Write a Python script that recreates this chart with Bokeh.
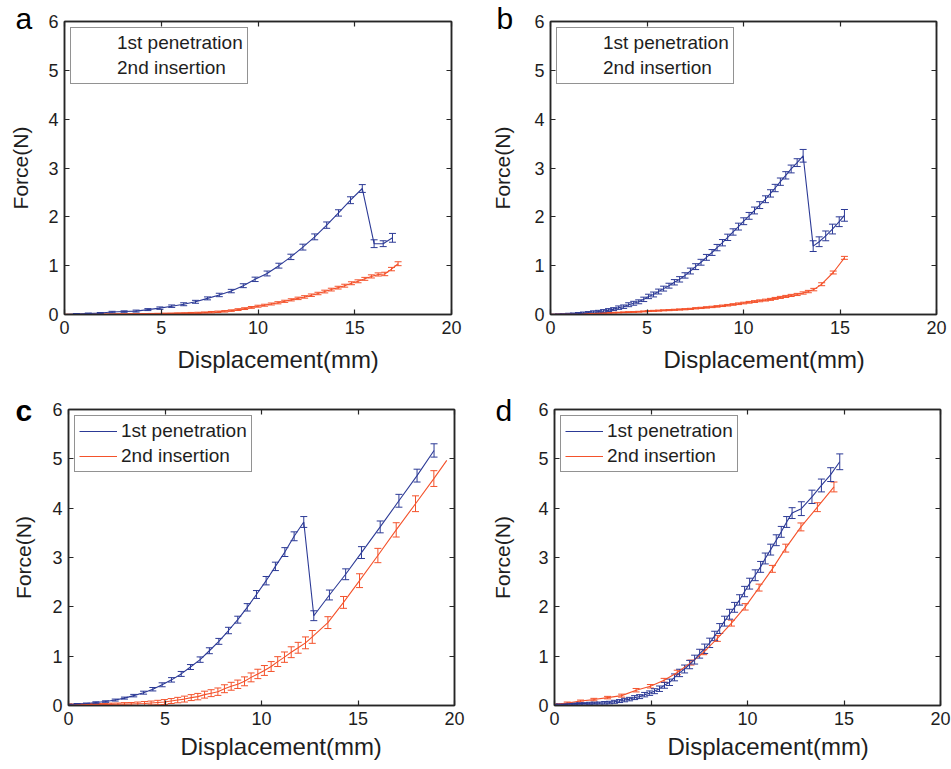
from bokeh.plotting import figure
from bokeh.layouts import column, row
from bokeh.models import (ColumnDataSource, Whisker, TeeHead, Title, LinearAxis,
                          Range1d, Legend, LegendItem, FixedTicker)
from bokeh.embed import file_html
from bokeh.resources import INLINE

# ---------------- data ----------------
x_ticks = [0, 5, 10, 15, 20]
y_ticks = [0, 1, 2, 3, 4, 5, 6]
x_label = "Displacement(mm)"
y_label = "Force(N)"
series_names = ["1st penetration", "2nd insertion"]
panel_letters = ["a", "b", "c", "d"]

# panel a
a_pen_x = [0, 0.62, 1.23, 1.85, 2.46, 3.08, 3.70, 4.31, 4.93, 5.54,
           6.16, 6.77, 7.39, 8.00, 8.62, 9.24, 9.85, 10.47, 11.08, 11.70,
           12.32, 12.93, 13.55, 14.16, 14.78, 15.39, 16.00, 16.47, 16.95]
a_pen_y = [0.00, 0.01, 0.02, 0.03, 0.05, 0.06, 0.07, 0.10, 0.13, 0.17,
           0.21, 0.26, 0.33, 0.40, 0.48, 0.59, 0.72, 0.84, 1.00, 1.18,
           1.38, 1.59, 1.83, 2.08, 2.34, 2.58, 1.45, 1.45, 1.57]
a_pen_err = [0, 0.01, 0.01, 0.01, 0.015, 0.015, 0.02, 0.02, 0.025, 0.025,
             0.03, 0.03, 0.03, 0.035, 0.035, 0.04, 0.045, 0.05, 0.05, 0.055,
             0.06, 0.06, 0.065, 0.065, 0.07, 0.08, 0.08, 0.06, 0.09]
a_ins_x = [0, 0.34, 0.69, 1.03, 1.38, 1.72, 2.07, 2.41, 2.76, 3.10,
           3.45, 3.79, 4.14, 4.48, 4.83, 5.17, 5.52, 5.86, 6.21, 6.55,
           6.90, 7.24, 7.59, 7.93, 8.28, 8.62, 8.97, 9.31, 9.66, 10.00,
           10.34, 10.69, 11.03, 11.38, 11.72, 12.07, 12.41, 12.76, 13.10, 13.45,
           13.79, 14.14, 14.48, 14.83, 15.17, 15.52, 15.86, 16.21, 16.55, 16.90,
           17.24]
a_ins_y = [0.000, 0.000, 0.001, 0.002, 0.003, 0.004, 0.005, 0.006, 0.007, 0.008,
           0.009, 0.010, 0.012, 0.014, 0.016, 0.018, 0.020, 0.023, 0.026, 0.030,
           0.034, 0.040, 0.047, 0.055, 0.065, 0.080, 0.100, 0.120, 0.145, 0.170,
           0.190, 0.215, 0.240, 0.270, 0.300, 0.330, 0.360, 0.395, 0.430, 0.470,
           0.510, 0.550, 0.590, 0.640, 0.680, 0.730, 0.780, 0.820, 0.830, 0.930,
           1.040]
a_ins_err = [0.005, 0.005, 0.005, 0.005, 0.005, 0.005, 0.005, 0.005, 0.005, 0.005,
             0.008, 0.008, 0.008, 0.008, 0.008, 0.01, 0.01, 0.01, 0.01, 0.012,
             0.012, 0.012, 0.015, 0.015, 0.015, 0.015, 0.018, 0.018, 0.018, 0.02,
             0.02, 0.02, 0.022, 0.022, 0.022, 0.025, 0.025, 0.025, 0.025, 0.028,
             0.028, 0.028, 0.03, 0.03, 0.03, 0.03, 0.032, 0.032, 0.035, 0.035,
             0.04]

# panel b
b_pen_x = [0, 0.16, 0.42, 0.68, 0.94, 1.19, 1.45, 1.71, 1.97, 2.23,
           2.49, 2.75, 3.01, 3.27, 3.53, 3.79, 4.05, 4.31, 4.57, 4.83,
           5.08, 5.34, 5.60, 5.86, 6.14, 6.42, 6.69, 6.97, 7.25, 7.52,
           7.80, 8.08, 8.37, 8.63, 8.91, 9.18, 9.46, 9.74, 10.01, 10.29,
           10.57, 10.84, 11.14, 11.40, 11.64, 11.91, 12.19, 12.47, 12.78, 13.09,
           13.61, 13.92, 14.26, 14.61, 14.96, 15.23]
b_pen_y = [0, 0.0, 0.002, 0.005, 0.01, 0.015, 0.02, 0.03, 0.04, 0.05,
           0.06, 0.07, 0.09, 0.11, 0.14, 0.16, 0.20, 0.23, 0.26, 0.31,
           0.37, 0.41, 0.47, 0.53, 0.59, 0.66, 0.72, 0.80, 0.89, 0.98,
           1.07, 1.17, 1.27, 1.37, 1.47, 1.58, 1.69, 1.80, 1.91, 2.02,
           2.13, 2.24, 2.36, 2.48, 2.59, 2.72, 2.85, 2.98, 3.11, 3.25,
           1.40, 1.49, 1.61, 1.75, 1.90, 2.03]
b_pen_err = [0, 0.005, 0.01, 0.01, 0.015, 0.015, 0.02, 0.02, 0.02, 0.025,
             0.025, 0.03, 0.03, 0.03, 0.035, 0.035, 0.04, 0.04, 0.04, 0.045,
             0.045, 0.05, 0.05, 0.05, 0.05, 0.055, 0.055, 0.055, 0.06, 0.06,
             0.06, 0.06, 0.06, 0.065, 0.065, 0.065, 0.065, 0.07, 0.07, 0.07,
             0.07, 0.07, 0.07, 0.075, 0.075, 0.075, 0.075, 0.08, 0.08, 0.13,
             0.11, 0.10, 0.10, 0.10, 0.10, 0.12]
b_ins_x = [0, 0.16, 0.42, 0.68, 0.94, 1.19, 1.45, 1.71, 1.97, 2.23,
           2.49, 2.75, 3.01, 3.27, 3.53, 3.79, 4.05, 4.31, 4.57, 4.83,
           5.08, 5.34, 5.60, 5.86, 6.14, 6.42, 6.69, 6.97, 7.25, 7.52,
           7.80, 8.08, 8.37, 8.63, 8.91, 9.18, 9.46, 9.74, 10.01, 10.29,
           10.57, 10.84, 11.14, 11.40, 11.64, 11.91, 12.19, 12.47, 12.78, 13.09,
           13.36, 13.64, 14.05, 14.65, 15.23]
b_ins_y = [0, 0.001, 0.003, 0.005, 0.007, 0.009, 0.011, 0.014, 0.017, 0.02,
           0.025, 0.03, 0.034, 0.037, 0.04, 0.044, 0.048, 0.052, 0.057, 0.063,
           0.07, 0.075, 0.08, 0.085, 0.09, 0.096, 0.102, 0.108, 0.115, 0.127,
           0.135, 0.145, 0.155, 0.166, 0.178, 0.19, 0.205, 0.22, 0.235, 0.25,
           0.265, 0.28, 0.295, 0.31, 0.33, 0.35, 0.37, 0.39, 0.41, 0.44,
           0.47, 0.51, 0.62, 0.86, 1.16]
b_ins_err = [0.003, 0.003, 0.003, 0.003, 0.004, 0.004, 0.004, 0.005, 0.005, 0.005,
             0.006, 0.006, 0.006, 0.007, 0.007, 0.007, 0.008, 0.008, 0.008, 0.009,
             0.009, 0.01, 0.01, 0.01, 0.011, 0.011, 0.012, 0.012, 0.012, 0.013,
             0.013, 0.014, 0.014, 0.015, 0.015, 0.016, 0.016, 0.017, 0.017, 0.018,
             0.018, 0.019, 0.019, 0.02, 0.02, 0.021, 0.021, 0.022, 0.022, 0.023,
             0.024, 0.025, 0.03, 0.03, 0.03]

# panel c
c_pen_x = [0.0, 0.45, 0.93, 1.42, 1.92, 2.42, 2.90, 3.38, 3.89, 4.37,
           4.85, 5.34, 5.84, 6.32, 6.82, 7.30, 7.79, 8.29, 8.77, 9.26,
           9.74, 10.24, 10.72, 11.21, 11.69, 12.19, 12.71, 13.52, 14.36, 15.18,
           16.15, 17.12, 18.06, 18.94]
c_pen_y = [0.02, 0.03, 0.04, 0.06, 0.08, 0.11, 0.15, 0.20, 0.26, 0.33,
           0.42, 0.52, 0.64, 0.78, 0.93, 1.11, 1.30, 1.52, 1.74, 1.99,
           2.25, 2.53, 2.82, 3.11, 3.43, 3.72, 1.82, 2.24, 2.66, 3.10,
           3.62, 4.15, 4.66, 5.17]
c_pen_err = [0.005, 0.01, 0.01, 0.015, 0.015, 0.02, 0.02, 0.025, 0.03, 0.035,
             0.04, 0.045, 0.05, 0.05, 0.055, 0.06, 0.06, 0.065, 0.07, 0.075,
             0.08, 0.085, 0.085, 0.09, 0.09, 0.11, 0.10, 0.10, 0.11, 0.12,
             0.12, 0.13, 0.13, 0.135]
c_ins_x = [0.00, 0.14, 0.49, 0.83, 1.18, 1.52, 1.87, 2.21, 2.56, 2.90,
           3.25, 3.59, 3.94, 4.28, 4.63, 4.97, 5.32, 5.66, 6.01, 6.36,
           6.70, 7.05, 7.39, 7.74, 8.08, 8.43, 8.77, 9.12, 9.46, 9.81,
           10.15, 10.50, 10.84, 11.19, 11.54, 11.90, 12.28, 12.63, 13.44, 14.25,
           15.08, 16.03, 16.98, 17.98, 18.93, 19.60]
c_ins_y = [0.020, 0.020, 0.020, 0.020, 0.020, 0.021, 0.022, 0.023, 0.025, 0.028,
           0.030, 0.035, 0.040, 0.050, 0.060, 0.070, 0.090, 0.110, 0.130, 0.160,
           0.180, 0.220, 0.250, 0.280, 0.340, 0.390, 0.430, 0.490, 0.570, 0.640,
           0.710, 0.790, 0.890, 0.980, 1.080, 1.170, 1.270, 1.390, 1.680, 2.090,
           2.530, 3.040, 3.560, 4.090, 4.600, 4.970]
c_ins_err = [0.01, 0.01, 0.015, 0.015, 0.02, 0.02, 0.02, 0.025, 0.025, 0.03,
             0.03, 0.035, 0.04, 0.04, 0.045, 0.05, 0.05, 0.055, 0.06, 0.06,
             0.065, 0.07, 0.07, 0.075, 0.08, 0.08, 0.085, 0.09, 0.09, 0.095,
             0.10, 0.10, 0.10, 0.105, 0.11, 0.11, 0.12, 0.13, 0.12, 0.12,
             0.14, 0.145, 0.145, 0.16, 0.16, None]

# panel d
d_pen_x = [0, 0.26, 0.52, 0.78, 1.04, 1.30, 1.56, 1.82, 2.08, 2.34,
           2.60, 2.85, 3.11, 3.37, 3.63, 3.89, 4.15, 4.41, 4.67, 4.93,
           5.18, 5.44, 5.70, 5.96, 6.22, 6.48, 6.74, 7.00, 7.26, 7.52,
           7.78, 8.04, 8.30, 8.56, 8.81, 9.07, 9.33, 9.59, 9.85, 10.11,
           10.40, 10.68, 10.92, 11.20, 11.49, 11.75, 12.03, 12.31, 12.79, 13.34,
           13.83, 14.31, 14.78]
d_pen_y = [0.02, 0.025, 0.03, 0.035, 0.038, 0.04, 0.042, 0.045, 0.048, 0.05,
           0.055, 0.06, 0.075, 0.09, 0.11, 0.13, 0.16, 0.18, 0.22, 0.25,
           0.29, 0.34, 0.41, 0.47, 0.57, 0.66, 0.74, 0.83, 0.93, 1.05,
           1.15, 1.27, 1.41, 1.56, 1.71, 1.85, 1.99, 2.14, 2.31, 2.47,
           2.64, 2.81, 2.98, 3.16, 3.35, 3.52, 3.72, 3.90, 3.99, 4.23,
           4.46, 4.68, 4.94]
d_pen_err = [0.005, 0.01, 0.01, 0.01, 0.015, 0.015, 0.015, 0.02, 0.02, 0.02,
             0.025, 0.025, 0.03, 0.03, 0.035, 0.035, 0.04, 0.04, 0.045, 0.045,
             0.05, 0.055, 0.06, 0.065, 0.07, 0.075, 0.08, 0.085, 0.09, 0.09,
             0.095, 0.095, 0.095, 0.10, 0.10, 0.10, 0.10, 0.105, 0.105, 0.11,
             0.11, 0.11, 0.11, 0.11, 0.11, 0.11, 0.11, 0.11, 0.14, 0.135,
             0.13, 0.14, 0.16]
d_ins_x = [0, 0.66, 1.35, 2.04, 2.75, 3.48, 4.23, 4.97, 5.68, 6.36,
           7.07, 7.73, 8.44, 9.17, 9.88, 10.60, 11.29, 11.98, 12.77, 13.62,
           14.48]
d_ins_y = [0.02, 0.05, 0.09, 0.12, 0.16, 0.20, 0.31, 0.39, 0.51, 0.67,
           0.87, 1.08, 1.36, 1.67, 2.00, 2.39, 2.77, 3.19, 3.62, 4.02,
           4.43]
d_ins_err = [0.01, 0.02, 0.02, 0.025, 0.025, 0.03, 0.035, 0.035, 0.04, 0.045,
             0.05, 0.05, 0.06, 0.06, 0.065, 0.07, 0.07, 0.08, 0.08, 0.09,
             0.10]

# ---------------- style ----------------
BLUE = "#2C3A96"
RED = "#F4522B"
FONT = "Liberation Sans"
TXT = "#1E1E1E"
AX = "#262626"


def whiskers(p, xs, ys, errs, color):
    bx, lo, hi = [], [], []
    for x, y, e in zip(xs, ys, errs):
        if e is None or e <= 0:
            continue
        bx.append(x)
        lo.append(y - e)
        hi.append(y + e)
    src = ColumnDataSource(dict(x=bx, lo=lo, hi=hi))
    w = Whisker(source=src, base="x", lower="lo", upper="hi",
                line_color=color, line_width=1,
                upper_head=TeeHead(size=7, line_color=color, line_width=1),
                lower_head=TeeHead(size=7, line_color=color, line_width=1))
    p.add_layout(w)


def panel(pen, ins, letter, bold, letter_off, letter_standoff, xlab_off,
          xlab_standoff, geom, ylab_standoff, samples):
    W, H, bl, br, bt, bb = geom
    p = figure(width=W, height=H, x_range=Range1d(0, 20), y_range=Range1d(0, 6),
               output_backend="svg", toolbar_location=None,
               min_border_left=bl, min_border_right=br,
               min_border_top=bt, min_border_bottom=bb,
               background_fill_color="white", border_fill_color="white")
    p.xgrid.visible = False
    p.ygrid.visible = False
    p.outline_line_color = AX
    p.outline_line_width = 1.5
    p.outline_line_alpha = 1.0

    bottom = p.below[0]
    left = p.left[0]
    bottom.ticker = FixedTicker(ticks=x_ticks)
    left.ticker = FixedTicker(ticks=y_ticks)
    top = LinearAxis(ticker=FixedTicker(ticks=x_ticks))
    right = LinearAxis(ticker=FixedTicker(ticks=y_ticks))
    p.add_layout(top, "above")
    p.add_layout(right, "right")
    for ax in [bottom, left, top, right]:
        ax.major_tick_in = 5
        ax.major_tick_out = 0
        ax.minor_tick_in = 0
        ax.minor_tick_out = 0
        ax.axis_line_color = AX
        ax.axis_line_width = 1.5
        ax.major_tick_line_color = AX
        ax.major_tick_line_width = 1.2
        ax.major_label_text_font = FONT
        ax.major_label_text_font_size = "18px"
        ax.major_label_text_color = TXT
    for ax in [top, right]:
        ax.major_label_text_font_size = "0px"
        ax.major_label_text_color = None
        ax.major_label_standoff = 0
    bottom.major_label_standoff = 6
    left.major_label_standoff = 6
    left.axis_label = y_label
    left.axis_label_text_font = FONT
    left.axis_label_text_font_size = "21px"
    left.axis_label_text_font_style = "normal"
    left.axis_label_text_color = TXT
    left.axis_label_standoff = ylab_standoff

    (px, py, pe), (ix, iy, ie) = pen, ins
    r_ins = p.line(ix, iy, line_color=RED, line_width=1.1)
    whiskers(p, ix, iy, ie, RED)
    r_pen = p.line(px, py, line_color=BLUE, line_width=1.1)
    whiskers(p, px, py, pe, BLUE)

    if samples:
        rs = [r_pen, r_ins]
    else:
        d1 = p.line([], [], line_alpha=0)
        d2 = p.line([], [], line_alpha=0)
        rs = [d1, d2]
    legend = Legend(items=[LegendItem(label=series_names[0], renderers=[rs[0]]),
                           LegendItem(label=series_names[1], renderers=[rs[1]])],
                    location="top_left", margin=6, padding=4, spacing=3,
                    glyph_width=38, glyph_height=22, label_height=22,
                    label_standoff=4, label_text_font=FONT,
                    label_text_font_size="19px", label_text_color=TXT,
                    border_line_color=AX, border_line_width=1.5,
                    background_fill_color="white", background_fill_alpha=1.0)
    p.add_layout(legend)

    p.add_layout(Title(text=letter, align="left", offset=letter_off,
                       vertical_align="bottom", standoff=letter_standoff,
                       text_font=FONT, text_font_size="30px",
                       text_font_style="bold" if bold else "normal",
                       text_color="black"), "above")
    p.add_layout(Title(text=x_label, align="left", offset=xlab_off,
                       vertical_align="top", standoff=xlab_standoff,
                       text_font=FONT, text_font_size="24px",
                       text_font_style="normal", text_color=TXT), "below")
    return p


pa = panel((a_pen_x, a_pen_y, a_pen_err), (a_ins_x, a_ins_y, a_ins_err),
           panel_letters[0], False, -49, -27, 113, 19,
           (475, 385, 64, 24, 21, 71), 13, False)
pb = panel((b_pen_x, b_pen_y, b_pen_err), (b_ins_x, b_ins_y, b_ins_err),
           panel_letters[1], False, -54, -27, 113, 18,
           (476, 385, 75, 15, 21, 69), 17, False)
pc = panel((c_pen_x, c_pen_y, c_pen_err), (c_ins_x, c_ins_y, c_ins_err),
           panel_letters[2], True, -53, -35, 112, 11,
           (475, 384, 68, 21, 24, 64), 14, True)
pd = panel((d_pen_x, d_pen_y, d_pen_err), (d_ins_x, d_ins_y, d_ins_err),
           panel_letters[3], False, -59, -35, 113, 11,
           (476, 384, 79, 11, 24, 64), 21, True)

layout = column(row(pa, pb, spacing=0), row(pc, pd, spacing=0), spacing=0)
open("out.html", "w").write(file_html(layout, INLINE, title="Force vs displacement"))
